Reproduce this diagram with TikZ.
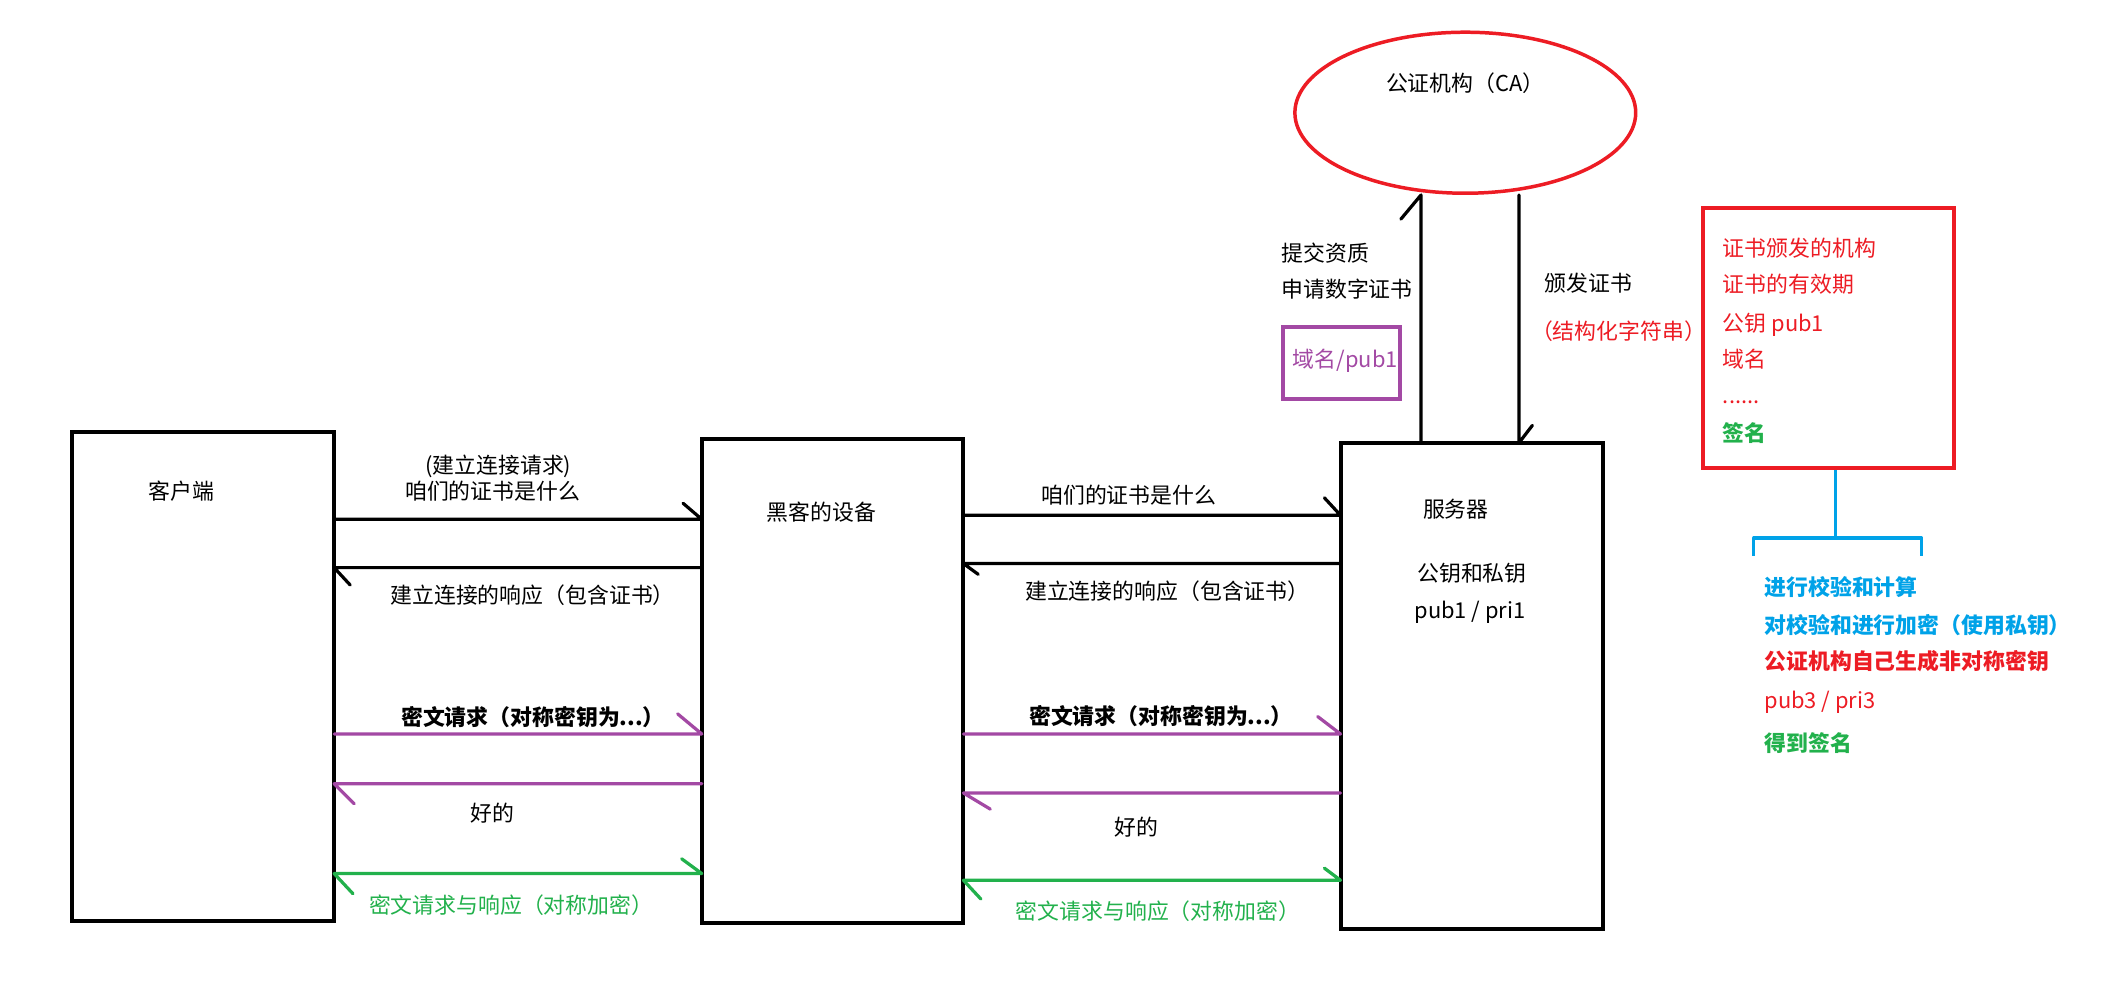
\documentclass[tikz,border=0pt]{standalone}
\usepackage{fontspec}
\setmainfont{Noto Sans CJK SC}
\usetikzlibrary{shapes.geometric}
\definecolor{pred}{HTML}{ED1C24}
\definecolor{ppur}{HTML}{A349A4}
\definecolor{pgrn}{HTML}{22B14C}
\definecolor{pblu}{HTML}{00A2E8}
\newcommand{\myfs}{\fontsize{16.3}{20}\selectfont}
\begin{document}
\begin{tikzpicture}[x=1pt,y=-1pt,
  box/.style={draw=black, line width=3pt, inner sep=0pt, outer sep=0pt},
  txt/.style={inner sep=0pt, outer sep=0pt, font=\myfs, text height=14pt, text depth=2pt},
  lt/.style={txt, anchor=west},
  bt/.style={lt, font=\myfs\bfseries},
  conn/.style={line width=2.4pt, line cap=round, line join=round}]
\fill[white] (0,0) rectangle (1568,740);
\useasboundingbox (0,0) rectangle (1568,740);

% main boxes
\node[box, minimum width=195pt, minimum height=364pt] (client) at (151.5,504) {};
\node[box, minimum width=195pt, minimum height=361pt] (hacker) at (620.5,507.5) {};
\node[box, minimum width=195.5pt, minimum height=362pt] (server) at (1096.75,511) {};

\node[txt] (clientlbl) at (135,366) {客户端};
\node[txt] (hackerlbl) at (612,382) {黑客的设备};
\node[txt] (serverlbl) at (1085,380) {服务器};
\node[txt] (keyslbl) at (1097,427) {公钥和私钥};
\node[txt] (pairlbl) at (1095.5,455) {pub1 / pri1};

% CA
\node[draw=pred, line width=2.6pt, ellipse, minimum width=254pt, minimum height=120pt, inner sep=0pt] (ca) at (1092,84) {};
\node[txt] (calbl) at (1092,62) {公证机构（CA）};
\node[lt] (submit1) at (955,189) {提交资质};
\node[lt] (submit2) at (955,216) {申请数字证书};
\node[draw=ppur, line width=3pt, minimum width=87pt, minimum height=53pt, inner sep=0pt] (dombox) at (999.5,270.5) {};
\node[lt, text=ppur] (domlbl) at (963.5,268) {域名/pub1};
\node[lt] (issue1) at (1151,211) {颁发证书};
\node[lt, text=pred] (issue2) at (1141,247) {（结构化字符串）};

\draw[conn] (1059,0 |- server.north) -- (1059,0 |- ca.south) -- ++(-15,18);
\draw[conn] (1132,0 |- ca.south) -- (1132,0 |- server.north) -- ++(10,-13);

% certificate box
\node[draw=pred, line width=3pt, minimum width=187pt, minimum height=194pt, inner sep=0pt] (cert) at (1362.5,252) {};
\node[lt, text=pred] (c1) at (1284,185) {证书颁发的机构};
\node[lt, text=pred] (c2) at (1284,212) {证书的有效期};
\node[lt, text=pred] (c3) at (1284,241) {公钥 pub1};
\node[lt, text=pred] (c4) at (1284,268) {域名};
\node[lt, text=pred] (c5) at (1284,295) {......};
\node[bt, text=pgrn] (c6) at (1284,323) {签名};

% bracket
\coordinate (brk) at (1368,401);
\draw[pblu, line width=2.5pt] (1368,0 |- cert.south) -- (brk);
\draw[pblu, line width=2.5pt, line join=round] (1307,414) -- (1307,401) -- (1432,401) -- (1432,414);
\node[bt, text=pblu] (s1) at (1315,438) {进行校验和计算};
\node[bt, text=pblu] (s2) at (1315,466) {对校验和进行加密（使用私钥）};
\node[bt, text=pred] (s3) at (1315,493) {公证机构自己生成非对称密钥};
\node[lt, text=pred] (s4) at (1315,522) {pub3 / pri3};
\node[bt, text=pgrn] (s5) at (1315,554) {得到签名};

% left connectors
\draw[conn] (client.east |- 0,387) -- (hacker.west |- 0,387) -- ++(-14,-12);
\draw[conn] (hacker.west |- 0,423) -- (client.east |- 0,423) -- ++(12,13);
\draw[conn, ppur] (client.east |- 0,547) -- (hacker.west |- 0,547) -- ++(-18,-15);
\draw[conn, ppur] (hacker.west |- 0,584) -- (client.east |- 0,584) -- ++(15,15);
\draw[conn, pgrn] (client.east |- 0,651) ++(14,15) -- (client.east |- 0,651) -- (hacker.west |- 0,651) -- ++(-15,-11);

\node[lt] (l1) at (317,347) {(建立连接请求)};
\node[lt] (l2) at (302,366) {咱们的证书是什么};
\node[lt] (l3) at (291,444) {建立连接的响应（包含证书）};
\node[bt] (l4) at (299,535) {密文请求（对称密钥为...）};
\node[txt] (l5) at (367,606) {好的};
\node[lt, text=pgrn] (l6) at (275,675) {密文请求与响应（对称加密）};

% right connectors
\draw[conn] (hacker.east |- 0,384) -- (server.west |- 0,384) -- ++(-12,-13);
\draw[conn] (server.west |- 0,420) -- (hacker.east |- 0,420) -- ++(11,8);
\draw[conn, ppur] (hacker.east |- 0,547) -- (server.west |- 0,547) -- ++(-17,-13);
\draw[conn, ppur] (server.west |- 0,591) -- (hacker.east |- 0,591) -- ++(20,12);
\draw[conn, pgrn] (hacker.east |- 0,656) ++(13,14) -- (hacker.east |- 0,656) -- (server.west |- 0,656) -- ++(-12,-9);

\node[lt] (r1) at (776,369) {咱们的证书是什么};
\node[lt] (r2) at (764,441) {建立连接的响应（包含证书）};
\node[bt] (r3) at (767,534) {密文请求（对称密钥为...）};
\node[txt] (r4) at (847,617) {好的};
\node[lt, text=pgrn] (r5) at (757,679) {密文请求与响应（对称加密）};
\end{tikzpicture}
\end{document}
